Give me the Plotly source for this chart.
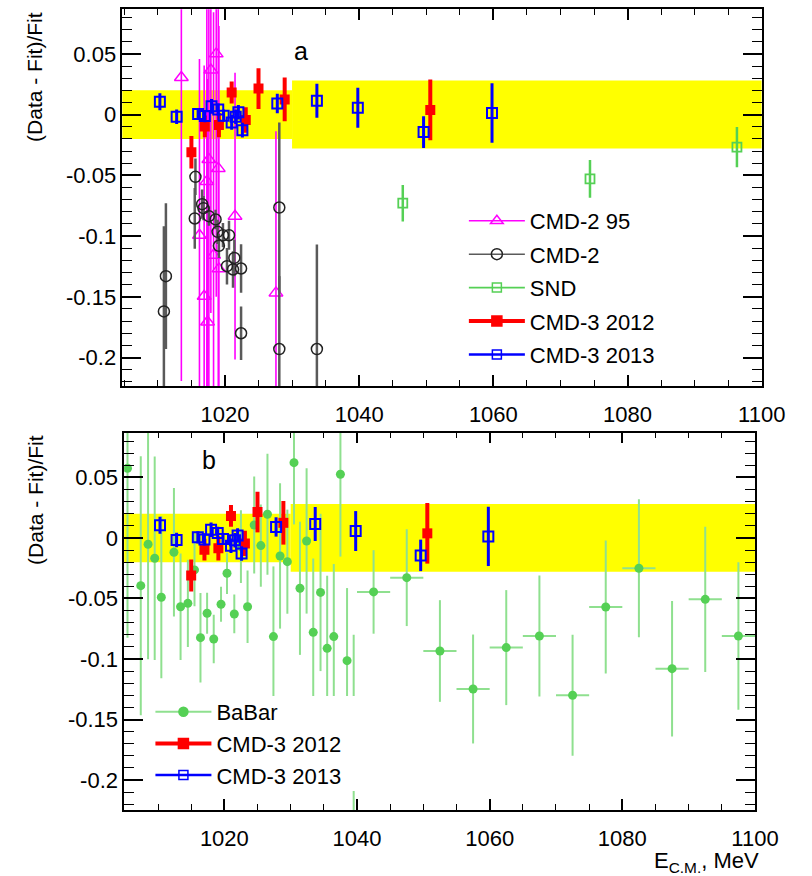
import plotly.graph_objects as go

# ---------------- data ----------------
band_edges = [1000.0, 1030.0, 1100.0]
band_half = [0.020, 0.028]

cmd2_95_E = [1013.5, 1016.2, 1016.9, 1017.3, 1017.4, 1017.6, 1017.9, 1018.3, 1018.7, 1019.0, 1019.1, 1021.5, 1027.6]
cmd2_95_v = [0.0306, -0.0993, -0.1495, -0.055, -0.1707, -0.037, 0.0367, -0.1157, 0.050, -0.0443, -0.127, -0.0836, -0.1468]
cmd2_95_err = [0.25, 0.145, 0.19, 0.20, 0.20, 0.20, 0.20, 0.20, 0.20, 0.20, 0.20, 0.118, 0.133]

cmd2_E = [1010.9, 1011.2, 1015.6, 1015.5, 1016.6, 1016.8, 1017.6, 1018.6, 1018.9, 1019.1, 1019.7,
          1020.6, 1020.3, 1021.4, 1021.2, 1022.4, 1022.4, 1028.1, 1028.1, 1033.7]
cmd2_v = [-0.162, -0.133, -0.0512, -0.0855, -0.0737, -0.077, -0.0836, -0.0863, -0.0965, -0.108, -0.0993,
          -0.0993, -0.1248, -0.118, -0.1275, -0.1267, -0.180, -0.0765, -0.193, -0.193]
cmd2_err = [0.07, 0.06, 0.015, 0.025, 0.012, 0.010, 0.008, 0.008, 0.010, 0.010, 0.010,
            0.012, 0.015, 0.015, 0.015, 0.020, 0.022, 0.070, 0.060, 0.086]

snd_E = [1046.5, 1074.4, 1096.3]
snd_v = [-0.0729, -0.0529, -0.0268]
snd_err = [0.015, 0.0155, 0.0165]

cmd3_2012_E = [1015.0, 1017.0, 1019.1, 1021.0, 1023.1, 1025.0, 1028.9, 1050.6]
cmd3_2012_v = [-0.031, -0.0097, -0.0086, 0.0182, -0.0045, 0.0214, 0.0125, 0.0038]
cmd3_2012_err = [0.0133, 0.009, 0.010, 0.009, 0.0105, 0.0168, 0.018, 0.025]

cmd3_2013_E = [1010.3, 1012.8, 1016.0, 1017.0, 1018.0, 1019.0, 1019.8, 1021.0, 1021.6, 1022.0,
               1022.6, 1027.8, 1033.7, 1039.8, 1049.6, 1059.8]
cmd3_2013_v = [0.0105, -0.0017, 0.0005, -0.0012, 0.0068, 0.0042, -0.0009, -0.0064, -0.0018, 0.002,
               -0.0128, 0.0091, 0.0115, 0.0057, -0.0144, 0.0013]
cmd3_2013_err = [0.007, 0.006, 0.005, 0.005, 0.006, 0.005, 0.005, 0.006, 0.006, 0.006,
                 0.006, 0.008, 0.014, 0.0165, 0.013, 0.0245]

babar_E = [1005.4, 1007.4, 1008.5, 1009.5, 1010.5, 1012.4, 1013.4, 1014.5, 1015.5, 1016.4,
           1017.4, 1018.4, 1019.5, 1020.4, 1021.5, 1022.5, 1023.5, 1024.5, 1025.5, 1026.5,
           1027.4, 1028.4, 1029.5, 1030.5, 1031.4, 1032.4, 1033.4, 1034.5, 1035.5, 1036.5,
           1037.5, 1038.5, 1039.5,
           1042.5, 1047.5, 1052.5, 1057.5, 1062.5, 1067.5, 1072.5, 1077.5, 1082.5, 1087.5,
           1092.5, 1097.5]
babar_v = [0.0576, -0.0394, -0.0052, -0.0168, -0.049, -0.0118, -0.0568, -0.054, -0.0264, -0.0824,
           -0.0622, -0.0835, -0.0548, -0.0292, -0.0628, -0.0072, -0.0568, 0.0107, -0.0063, 0.0196,
           -0.0815, -0.0149, -0.0196, 0.0622, -0.0416, -0.0025, -0.078, -0.045, -0.0912, -0.0815,
           0.0526, -0.1014, -0.25,
           -0.0446, -0.0328, -0.0934, -0.1248, -0.0906, -0.081, -0.130, -0.057, -0.025, -0.108,
           -0.0507, -0.081]
babar_err = [0.14, 0.107, 0.095, 0.084, 0.067, 0.053, 0.044, 0.036, 0.030, 0.037,
             0.017, 0.020, 0.0145, 0.017, 0.016, 0.030, 0.030, 0.040, 0.034, 0.050,
             0.058, 0.060, 0.043, 0.051, 0.055, 0.060, 0.061, 0.065, 0.060, 0.060,
             0.068, 0.060, 0.17,
             0.0345, 0.040, 0.042, 0.045, 0.0475, 0.050, 0.050, 0.055, 0.057, 0.056,
             0.060, 0.061]
babar_xerr = [0.5] * 33 + [2.5] * 12

x_tickvals = [1020, 1040, 1060, 1080, 1100]
y_tickvals = [0.05, 0.0, -0.05, -0.1, -0.15, -0.2]
y_ticktext = ["0.05", "0", "-0.05", "-0.1", "-0.15", "-0.2"]

# ---------------- style ----------------
YELLOW = "#ffff00"
MAGENTA = "#ff00ff"
GRAY = "#5a5a5a"
GREEN = "#55d055"
BGREEN = "#8fe08f"
RED = "#ff0000"
BLUE = "#0000ff"
FONT = "Liberation Sans, Arial, Helvetica, sans-serif"

fig = go.Figure()


def add_band(xa, ya):
    for i in range(len(band_half)):
        e0, e1, h = band_edges[i], band_edges[i + 1], band_half[i]
        fig.add_trace(go.Scatter(x=[e0, e1, e1, e0, e0], y=[-h, -h, h, h, -h],
                                 fill="toself", fillcolor=YELLOW, line=dict(width=0),
                                 mode="lines", hoverinfo="skip", showlegend=False,
                                 xaxis=xa, yaxis=ya))


def err(arr, color, th):
    return dict(type="data", array=arr, visible=True, color=color, thickness=th, width=0)


# top panel
add_band("x", "y")
fig.add_trace(go.Scatter(x=cmd2_95_E, y=cmd2_95_v, mode="markers",
                         error_y=err(cmd2_95_err, MAGENTA, 1.6),
                         marker=dict(symbol="triangle-up-open", size=12, color=MAGENTA, line=dict(width=1.5, color=MAGENTA)),
                         showlegend=False, xaxis="x", yaxis="y"))
fig.add_trace(go.Scatter(x=cmd2_E, y=cmd2_v, mode="markers",
                         error_y=err(cmd2_err, GRAY, 2.5),
                         marker=dict(symbol="circle-open", size=11, color="#222222", line=dict(width=1.5, color="#222222")),
                         showlegend=False, xaxis="x", yaxis="y"))
fig.add_trace(go.Scatter(x=snd_E, y=snd_v, mode="markers",
                         error_y=err(snd_err, GREEN, 2.5),
                         marker=dict(symbol="square-open", size=9, color=GREEN, line=dict(width=1.8, color=GREEN)),
                         showlegend=False, xaxis="x", yaxis="y"))
for xa, ya in [("x", "y"), ("x2", "y2")]:
    if xa == "x2":
        add_band("x2", "y2")
        fig.add_trace(go.Scatter(x=babar_E, y=babar_v, mode="markers",
                                 error_y=err(babar_err, BGREEN, 2),
                                 error_x=dict(type="data", array=babar_xerr, visible=True, color=BGREEN, thickness=2, width=0),
                                 marker=dict(symbol="circle", size=9, color=GREEN),
                                 showlegend=False, xaxis=xa, yaxis=ya))
    fig.add_trace(go.Scatter(x=cmd3_2012_E, y=cmd3_2012_v, mode="markers",
                             error_y=err(cmd3_2012_err, RED, 4),
                             marker=dict(symbol="square", size=10, color=RED),
                             showlegend=False, xaxis=xa, yaxis=ya))
    fig.add_trace(go.Scatter(x=cmd3_2013_E, y=cmd3_2013_v, mode="markers",
                             error_y=err(cmd3_2013_err, BLUE, 3),
                             marker=dict(symbol="square-open", size=10, color=BLUE, line=dict(width=2, color=BLUE)),
                             showlegend=False, xaxis=xa, yaxis=ya))

# legend entries
leg_top = [("CMD-2 95", MAGENTA, "triangle-up-open", 11, 1.6),
           ("CMD-2", "#222222", "circle-open", 11, 1.6),
           ("SND", GREEN, "square-open", 9, 1.8),
           ("CMD-3 2012", RED, "square", 10, 4),
           ("CMD-3 2013", BLUE, "square-open", 9, 2.5)]
for i, (name, c, sym, sz, lw) in enumerate(leg_top):
    fig.add_trace(go.Scatter(x=[None], y=[None], mode="lines+markers", name=name,
                             line=dict(color=c if name != "CMD-2" else GRAY, width=lw),
                             marker=dict(symbol=sym, size=sz, color=c, line=dict(width=1.5, color=c)),
                             legend="legend", legendgroup="g%d" % i, xaxis="x", yaxis="y"))
leg_bot = [("BaBar", BGREEN, "circle", 9, 2, GREEN),
           ("CMD-3 2012", RED, "square", 10, 4, RED),
           ("CMD-3 2013", BLUE, "square-open", 9, 2.5, BLUE)]
for name, c, sym, sz, lw, mc in leg_bot:
    fig.add_trace(go.Scatter(x=[None], y=[None], mode="lines+markers", name=name,
                             line=dict(color=c, width=lw),
                             marker=dict(symbol=sym, size=sz, color=mc, line=dict(width=1.5, color=mc)),
                             legend="legend2", xaxis="x2", yaxis="y2"))

axis_common = dict(showline=True, linecolor="black", linewidth=1.5, mirror="ticks",
                   ticks="inside", tickcolor="black", tickwidth=1.5,
                   showgrid=False, zeroline=False,
                   tickfont=dict(family=FONT, size=22, color="black"))

xa = dict(axis_common, tickmode="array", tickvals=x_tickvals, ticklen=11,
          ticklabelstandoff=8,
          minor=dict(tickmode="linear", tick0=1000, dtick=5, ticklen=6, ticks="inside",
                     tickcolor="black", tickwidth=1.2, showgrid=False))
ya = dict(axis_common, tickmode="array", tickvals=y_tickvals, ticktext=y_ticktext, ticklen=19,
          minor=dict(tickmode="linear", tick0=0, dtick=0.01, ticklen=10, ticks="inside",
                     tickcolor="black", tickwidth=1.2, showgrid=False))

fig.update_layout(
    width=812, height=876,
    margin=dict(l=0, r=0, t=0, b=0),
    paper_bgcolor="white", plot_bgcolor="white",
    font=dict(family=FONT, size=22, color="black"),
    xaxis=dict(xa, domain=[0.1552, 0.9667], range=[1004.7, 1100], anchor="y"),
    yaxis=dict(ya, domain=[0.5594, 0.9894], range=[-0.2234, 0.0867], anchor="x"),
    xaxis2=dict(xa, domain=[0.1576, 0.9581], range=[1004.9, 1100], anchor="y2"),
    yaxis2=dict(ya, domain=[0.0753, 0.5061], range=[-0.2248, 0.087], anchor="x2"),
    legend=dict(x=478 / 812, y=(876 - 200) / 876, xanchor="left", yanchor="top",
                bgcolor="rgba(0,0,0,0)", font=dict(family=FONT, size=22, color="black"),
                itemwidth=56, tracegroupgap=1.8, traceorder="grouped"),
    legend2=dict(x=155 / 812, y=(876 - 691) / 876, xanchor="left", yanchor="top",
                 bgcolor="rgba(0,0,0,0)", font=dict(family=FONT, size=22, color="black"),
                 itemwidth=56),
    shapes=[dict(type="rect", xref="paper", yref="paper",
                 x0=150 / 812, x1=372 / 812, y0=(876 - 791) / 876, y1=(876 - 696) / 876,
                 fillcolor="white", line=dict(width=0), layer="above")],
    annotations=[
        dict(text="a", x=310 / 812, y=(876 - 35) / 876, xref="paper", yref="paper",
             showarrow=False, font=dict(family=FONT, size=25, color="black")),
        dict(text="b", x=206 / 812, y=(876 - 460) / 876, xref="paper", yref="paper",
             showarrow=False, font=dict(family=FONT, size=25, color="black")),
        dict(text="(Data - Fit)/Fit", textangle=-90, x=36 / 812, y=(876 - 10) / 876,
             xref="paper", yref="paper", xanchor="center", yanchor="top", showarrow=False,
             font=dict(family=FONT, size=21, color="black")),
        dict(text="(Data - Fit)/Fit", textangle=-90, x=36 / 812, y=(876 - 433) / 876,
             xref="paper", yref="paper", xanchor="center", yanchor="top", showarrow=False,
             font=dict(family=FONT, size=21, color="black")),
        dict(text="E<sub>C.M.</sub>, MeV", x=784 / 812, y=(876 - 862) / 876,
             xref="paper", yref="paper", xanchor="right", yanchor="middle", showarrow=False,
             font=dict(family=FONT, size=22, color="black")),
    ],
)

fig.write_html("out.html")
